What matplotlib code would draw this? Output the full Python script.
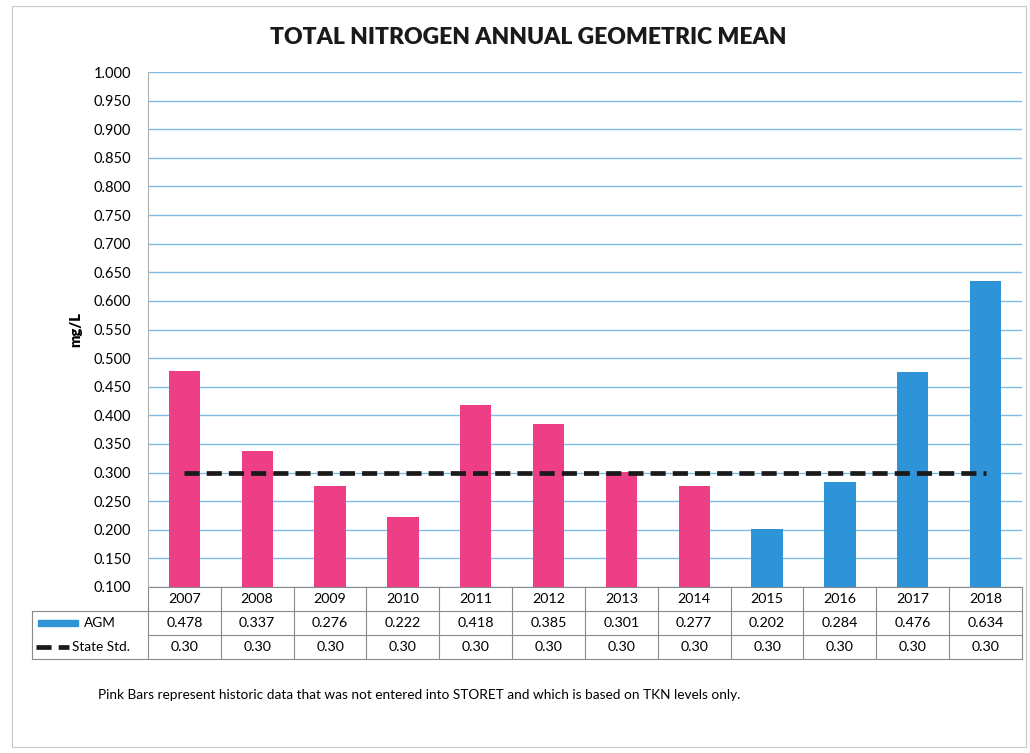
import numpy as np
import matplotlib.pyplot as plt
from matplotlib.lines import Line2D
from matplotlib.patches import Rectangle

plt.rcParams["font.family"] = ["Lato", "DejaVu Sans"]

years = ["2007", "2008", "2009", "2010", "2011", "2012",
         "2013", "2014", "2015", "2016", "2017", "2018"]
agm = [0.478, 0.337, 0.276, 0.222, 0.418, 0.385,
       0.301, 0.277, 0.202, 0.284, 0.476, 0.634]
state_std = [0.30] * 12
historic = [True] * 8 + [False] * 4

pink = "#ee3f86"
blue = "#2f93d8"
grid_blue = "#7dbde6"
edge = "#8a8a8a"

fig = plt.figure(figsize=(10.3, 7.53), dpi=100)
fig.patches.append(Rectangle((12 / 1030, 6 / 753), 1014 / 1030, 741 / 753,
                             transform=fig.transFigure, fill=False,
                             edgecolor="#c8c8c8", lw=0.8))
ax = fig.add_axes([148 / 1030, 1 - 587 / 753, 874 / 1030, 515 / 753])

x = np.arange(len(years))
colors = [pink if h else blue for h in historic]
ax.bar(x, agm, width=0.43, color=colors, zorder=3)
ax.plot(x, state_std, color="#1a1a1a", lw=3.4, ls=(0, (3.2, 1.5)), zorder=4)

ax.set_xlim(-0.5, len(years) - 0.5)
ax.set_ylim(0.1, 1.0)
ax.set_yticks(np.arange(0.1, 1.0001, 0.05))
ax.yaxis.set_major_formatter(plt.FormatStrFormatter("%.3f"))
ax.tick_params(axis="y", length=0, labelsize=10.5, pad=12)
ax.set_xticks([])
ax.grid(axis="y", color=grid_blue, lw=1.0, zorder=0)
for side in ["top", "right", "bottom"]:
    ax.spines[side].set_visible(False)
ax.spines["left"].set_color("#b0b0b0")
ax.set_ylabel("mg/L", fontsize=10.5, fontweight="heavy", labelpad=8)

fig.text(528 / 1030, 1 - 38 / 753, "TOTAL NITROGEN ANNUAL GEOMETRIC MEAN",
         ha="center", va="center", fontsize=16.5, fontweight="heavy", color="#1a1a1a")

# data table under the plot
tr = ax.get_xaxis_transform()
row_h = 24 / 515
rows_y = [0, -row_h, -2 * row_h, -3 * row_h]
label_left = (32 - 148) / 874
lkw = dict(color=edge, lw=0.8, clip_on=False)
for y in rows_y:
    ax.plot([-0.5, len(years) - 0.5], [y, y], transform=tr, **lkw)
ax.plot([label_left, 0], [rows_y[1], rows_y[1]], transform=ax.transAxes, **lkw)
ax.plot([label_left, 0], [rows_y[3], rows_y[3]], transform=ax.transAxes, **lkw)
ax.plot([label_left, label_left], [rows_y[1], rows_y[3]], transform=ax.transAxes, **lkw)
for i in range(len(years) + 1):
    ax.plot([i - 0.5, i - 0.5], [rows_y[0], rows_y[3]], transform=tr, **lkw)

for i in range(len(years)):
    ax.text(i, (rows_y[0] + rows_y[1]) / 2, years[i], transform=tr,
            ha="center", va="center", fontsize=10.3)
    ax.text(i, (rows_y[1] + rows_y[2]) / 2, f"{agm[i]:.3f}", transform=tr,
            ha="center", va="center", fontsize=10.3)
    ax.text(i, (rows_y[2] + rows_y[3]) / 2, f"{state_std[i]:.2f}", transform=tr,
            ha="center", va="center", fontsize=10.3)

# legend keys in the row label cells
y_agm = (rows_y[1] + rows_y[2]) / 2
y_std = (rows_y[2] + rows_y[3]) / 2
ax.add_patch(Rectangle(((38 - 148) / 874, y_agm - 0.006), 40 / 874, 0.012,
                       transform=ax.transAxes, color=blue, clip_on=False))
ax.text((84 - 148) / 874, y_agm, "AGM", transform=ax.transAxes,
        ha="left", va="center", fontsize=9.8)
ax.add_line(Line2D([(36 - 148) / 874, (69 - 148) / 874], [y_std, y_std],
                   transform=ax.transAxes, color="#1a1a1a", lw=3.4,
                   ls=(0, (3.2, 1.5)), clip_on=False))
ax.text((72 - 148) / 874, y_std, "State Std.", transform=ax.transAxes,
        ha="left", va="center", fontsize=9.8)

fig.text(98 / 1030, 1 - 695 / 753,
         "Pink Bars represent historic data that was not entered into STORET "
         "and which is based on TKN levels only.",
         ha="left", va="center", fontsize=9.8)

fig.savefig("out.png", dpi=100)
